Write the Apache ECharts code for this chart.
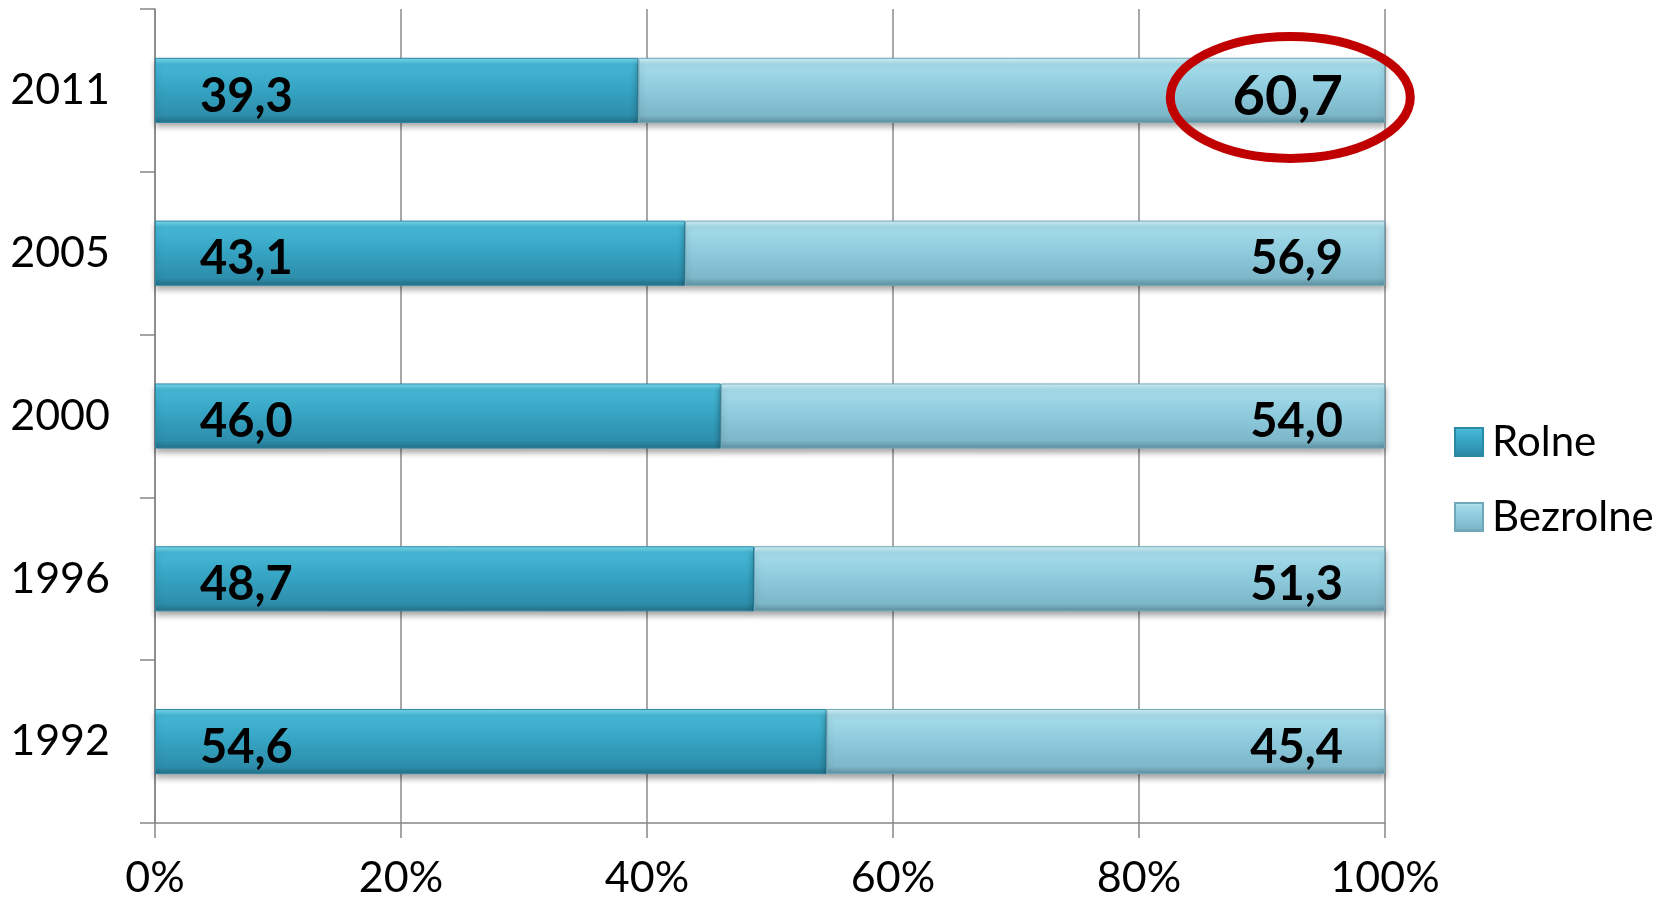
<!DOCTYPE html>
<html>
<head>
<meta charset="utf-8">
<script src="https://cdn.jsdelivr.net/npm/echarts@6/dist/echarts.min.js"></script>
<style>
  html, body { margin: 0; padding: 0; background: #fff; }
  #chart { width: 1670px; height: 906px; }
</style>
</head>
<body>
<div id="chart"></div>
<script>
// data
const years = ['1992', '1996', '2000', '2005', '2011']
const rolne = [54.6, 48.7, 46.0, 43.1, 39.3]
const bezrolne = [45.4, 51.3, 54.0, 56.9, 60.7]
const xTicks = [0, 20, 40, 60, 80, 100]
const highlightYear = '2011'

const font = 'Lato, "Open Sans", sans-serif'
const fmt = p => p.value.toFixed(1).replace('.', ',')

const darkFill = new echarts.graphic.LinearGradient(0, 0, 0, 1, [
  { offset: 0, color: '#7fdcf0' },
  { offset: 0.1, color: '#45b8d6' },
  { offset: 0.5, color: '#35a2c1' },
  { offset: 0.88, color: '#2d8eab' },
  { offset: 1, color: '#236f86' }
])
const lightFill = new echarts.graphic.LinearGradient(0, 0, 0, 1, [
  { offset: 0, color: '#d6f4fb' },
  { offset: 0.1, color: '#a6dcea' },
  { offset: 0.5, color: '#8ccadc' },
  { offset: 0.88, color: '#7db7c9' },
  { offset: 1, color: '#5d8f9e' }
])

const chart = echarts.init(document.getElementById('chart'))

chart.setOption({
  animation: false,
  grid: { left: 155, right: 285, top: 9, bottom: 83 },
  legend: {
    orient: 'vertical',
    left: 1449,
    top: 414,
    itemWidth: 28,
    itemHeight: 28,
    itemGap: 29,
    icon: 'rect',
    data: ['Rolne', 'Bezrolne'],
    textStyle: { fontFamily: font, fontSize: 42, color: '#000', lineHeight: 46, padding: [0, 0, 0, 4] }
  },
  xAxis: {
    type: 'value',
    min: 0,
    max: 100,
    interval: 20,
    axisLine: { show: true, lineStyle: { color: '#868686', width: 1.5 } },
    axisTick: { show: true, length: 15, lineStyle: { color: '#868686', width: 1.5 } },
    splitLine: { show: true, lineStyle: { color: '#8c8c8c', width: 1.5 } },
    axisLabel: {
      margin: 34,
      fontFamily: font,
      fontSize: 43,
      color: '#000',
      formatter: v => (xTicks.indexOf(v) >= 0 ? v + '%' : '')
    }
  },
  yAxis: {
    type: 'category',
    data: years,
    axisLine: { show: true, lineStyle: { color: '#868686', width: 1.5 } },
    axisTick: { show: true, length: 15, lineStyle: { color: '#868686', width: 1.5 } },
    axisLabel: { margin: 45, fontFamily: font, fontSize: 43, color: '#000' }
  },
  series: [
    {
      name: 'Rolne',
      type: 'bar',
      stack: 'total',
      barCategoryGap: '60%',
      data: rolne,
      itemStyle: {
        color: darkFill,
        borderColor: '#2a8aa6',
        borderWidth: 1,
        shadowColor: 'rgba(0,0,0,0.35)',
        shadowBlur: 6,
        shadowOffsetY: 4
      },
      label: {
        show: true,
        position: 'insideLeft',
        distance: 45,
        offset: [0, 6],
        formatter: fmt,
        fontFamily: font,
        fontWeight: 'bold',
        fontSize: 47,
        color: '#000'
      }
    },
    {
      name: 'Bezrolne',
      type: 'bar',
      stack: 'total',
      barCategoryGap: '60%',
      data: bezrolne.map((v, i) => years[i] === highlightYear
        ? { value: v, label: { fontSize: 56, offset: [0, 7] } }
        : v),
      itemStyle: {
        color: lightFill,
        borderColor: '#6fa8b9',
        borderWidth: 1,
        shadowColor: 'rgba(0,0,0,0.35)',
        shadowBlur: 6,
        shadowOffsetY: 4
      },
      label: {
        show: true,
        position: 'insideRight',
        distance: 42,
        offset: [0, 6],
        formatter: fmt,
        fontFamily: font,
        fontWeight: 'bold',
        fontSize: 47,
        color: '#000'
      }
    }
  ]
})

// red ellipse round the highlighted label
const hi = years.indexOf(highlightYear)
const c = chart.convertToPixel({ gridIndex: 0 }, [92.3, hi])
chart.setOption({
  graphic: [{
    type: 'ellipse',
    shape: { cx: c[0], cy: c[1] + 7, rx: 120, ry: 61 },
    style: { fill: 'none', stroke: '#c00000', lineWidth: 9 },
    z: 100
  }]
})
</script>
</body>
</html>
